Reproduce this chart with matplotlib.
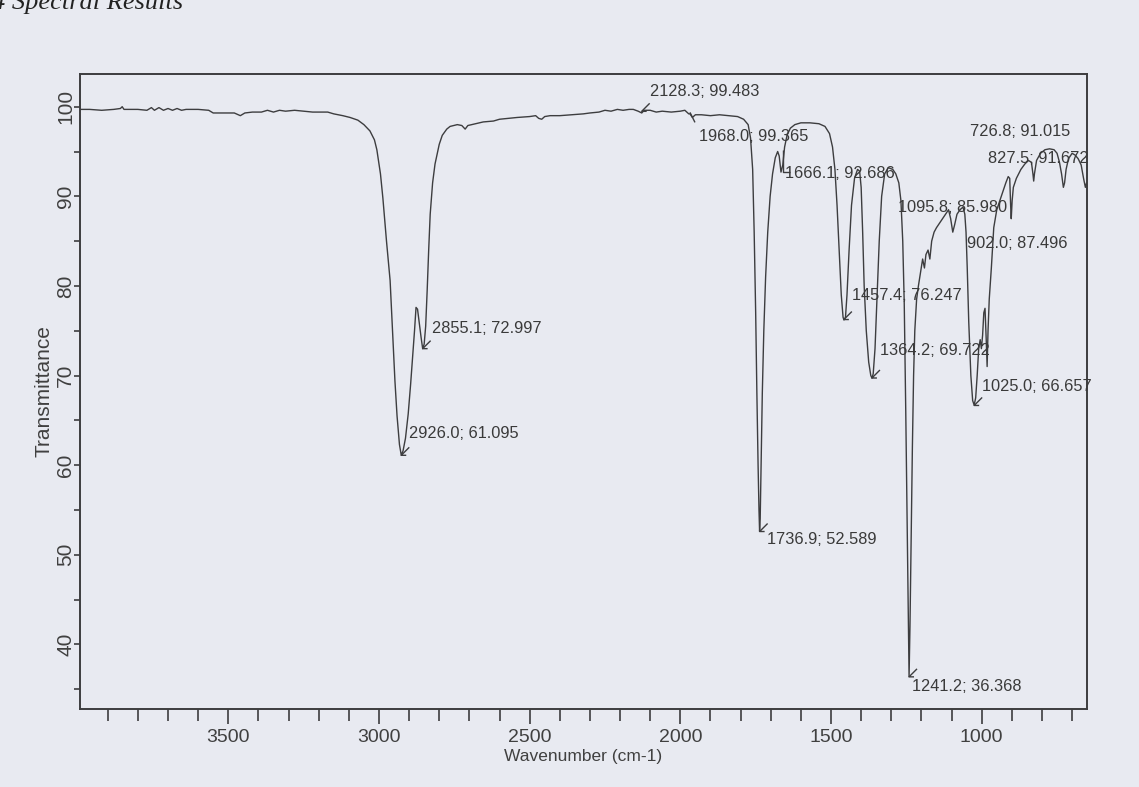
import matplotlib
matplotlib.use("Agg")
import matplotlib.pyplot as plt
from matplotlib.ticker import MultipleLocator, FixedLocator

# ---- spectrum ----
wavenumber = [
    3995, 3960, 3920, 3880, 3858, 3852, 3846, 3800, 3770, 3755, 3745, 3730, 3715,
    3700, 3685, 3670, 3655, 3640, 3600, 3565, 3550, 3520, 3480, 3460, 3445, 3420,
    3390, 3370, 3350, 3330, 3310, 3280, 3250, 3220, 3190, 3170, 3150, 3120, 3096,
    3070, 3050, 3030, 3015, 3007, 2995, 2987, 2975, 2963, 2955, 2947, 2940, 2932,
    2926, 2920, 2912, 2903, 2895, 2890, 2882, 2877, 2872, 2866, 2860, 2855, 2850,
    2845, 2840, 2835, 2830, 2822, 2814, 2800, 2790, 2775, 2764, 2740, 2725, 2714,
    2705, 2680, 2654, 2620, 2600, 2570, 2541, 2500, 2480, 2470, 2460, 2450, 2432,
    2400, 2360, 2322, 2300, 2270, 2250, 2230, 2209, 2190, 2170, 2156, 2140, 2128,
    2120, 2100, 2080, 2060, 2030, 2000, 1985, 1972, 1968, 1960, 1950, 1930, 1900,
    1870, 1840, 1810, 1790, 1775, 1767, 1760, 1755, 1750, 1746, 1742, 1739, 1737,
    1735, 1732, 1728, 1723, 1717, 1710, 1702, 1694, 1685, 1677, 1672, 1666, 1660,
    1654, 1646, 1635, 1620, 1600, 1570, 1540, 1520, 1505, 1495, 1487, 1480, 1473,
    1466, 1460, 1457, 1452, 1447, 1440, 1432, 1422, 1412, 1405, 1400, 1395, 1390,
    1383, 1375, 1368, 1364, 1360, 1354, 1347, 1340, 1332, 1322, 1310, 1295, 1285,
    1275, 1268, 1262, 1257, 1252, 1248, 1244, 1241, 1238, 1234, 1230, 1226, 1222,
    1216, 1210, 1203, 1196, 1190, 1185, 1178, 1172, 1166, 1158, 1150, 1140, 1130,
    1120, 1110, 1103, 1096, 1090, 1082, 1072, 1062, 1056, 1052, 1048, 1043, 1036,
    1030, 1025, 1020, 1015, 1010, 1005, 1001, 997, 993, 989, 985, 982, 979, 975,
    968, 960, 950, 940, 930, 920, 912, 907, 904, 902, 899, 895, 885, 870, 857, 845,
    835, 830, 827.5, 825, 818, 805, 790, 775, 760, 750, 742, 735, 729, 725, 720,
    712, 700, 690, 680, 670, 662, 656, 652,
]
transmittance = [
    99.7, 99.7, 99.6, 99.7, 99.8, 100.0, 99.7, 99.7, 99.6, 99.9, 99.6, 99.9, 99.6,
    99.8, 99.6, 99.8, 99.6, 99.7, 99.7, 99.6, 99.3, 99.3, 99.3, 99.0, 99.3, 99.4,
    99.4, 99.6, 99.4, 99.6, 99.5, 99.6, 99.5, 99.4, 99.4, 99.4, 99.2, 99.0, 98.8,
    98.5, 98.0, 97.3, 96.3, 95.2, 92.5, 89.8, 85.0, 80.6, 75.0, 69.4, 65.5, 62.3,
    61.1, 61.6, 63.0, 65.7, 69.0, 71.3, 75.0, 77.6, 77.4, 75.8, 74.2, 73.0, 73.5,
    75.5, 79.5, 84.0, 88.0, 91.5, 93.6, 95.8, 96.8, 97.5, 97.8, 98.0, 97.9, 97.5,
    97.9, 98.1, 98.3, 98.4, 98.6, 98.7, 98.8, 98.9, 99.0, 98.7, 98.6, 98.9, 99.0,
    99.0, 99.1, 99.2, 99.3, 99.4, 99.6, 99.5, 99.7, 99.6, 99.7, 99.7, 99.5, 99.3,
    99.6, 99.6, 99.4, 99.5, 99.4, 99.5, 99.6, 99.2, 99.2, 98.8, 99.1, 99.1, 99.0,
    99.1, 99.0, 98.9, 98.6, 98.0, 96.5, 93.0, 86.0, 77.0, 68.0, 60.0, 55.0, 52.6,
    54.0, 60.0, 68.0, 75.0, 81.0, 86.0, 90.0, 92.5, 94.3, 95.0, 94.5, 92.7, 93.5,
    95.5, 96.8, 97.6, 98.0, 98.2, 98.2, 98.1, 97.8, 97.0, 95.5, 93.0, 89.0, 84.0,
    79.0, 76.5, 76.2, 76.5, 79.0, 84.0, 89.0, 92.0, 93.0, 92.8, 91.0, 86.0, 80.0,
    75.0, 71.5, 70.0, 69.7, 70.2, 73.0, 79.0, 85.0, 90.0, 92.5, 93.2, 93.0, 92.5,
    91.5, 89.5, 85.0, 78.0, 66.0, 55.0, 43.0, 36.4, 42.0, 52.0, 62.0, 70.0, 75.0,
    78.5, 80.0, 81.5, 83.0, 82.0, 83.5, 84.0, 83.0, 85.0, 86.0, 86.5, 87.0, 87.5,
    88.0, 88.5, 87.5, 86.0, 86.8, 88.0, 88.5, 88.8, 88.0, 86.0, 82.0, 76.0, 70.0,
    67.2, 66.7, 67.5, 70.0, 73.0, 74.0, 73.0, 74.5, 77.0, 77.5, 74.0, 71.0, 75.0,
    78.5, 82.0, 86.5, 88.5, 89.5, 90.5, 91.5, 92.2, 92.0, 89.0, 87.5, 89.5, 91.0,
    92.0, 93.0, 93.6, 94.0, 93.8, 92.5, 91.7, 92.5, 94.0, 94.8, 95.2, 95.3, 95.2,
    94.8, 93.8, 92.5, 91.0, 91.5, 93.0, 94.2, 94.8, 94.6, 94.2, 93.5, 92.0, 91.0,
    91.5,
]

# ---- peak labels printed on the chart ----
peak_wn = [2926.0, 2855.1, 2128.3, 1968.0, 1736.9, 1666.1, 1457.4, 1364.2,
           1241.2, 1095.8, 1025.0, 902.0, 827.5, 726.8]
peak_t = [61.095, 72.997, 99.483, 99.365, 52.589, 92.686, 76.247, 69.722,
          36.368, 85.980, 66.657, 87.496, 91.672, 91.015]
label_wn = [2900, 2824, 2100.6, 1938, 1712, 1652.6, 1430, 1337.4,
            1231, 1277.6, 999, 1048.8, 979, 1039]
label_t = [63.5, 75.2, 101.7, 96.7, 51.75, 92.5, 78.9, 72.8,
           35.3, 88.7, 68.8, 84.75, 94.25, 97.25]
marker_kind = ["check", "check", "check", "slash", "check", "ell", "check", "check",
               "check", "none", "check", "none", "none", "none"]

sans = "Liberation Sans"
paper = "#e8eaf1"
ink = "#3d3d3f"

fig = plt.figure(figsize=(11.39, 7.87), dpi=100, facecolor=paper)
W, H = 1139, 787
ax = fig.add_axes([80 / W, 1 - 709 / H, (1087 - 80) / W, (709 - 74) / H])
ax.set_facecolor(paper)

ax.plot(wavenumber, transmittance, color=ink, lw=1.0)

ax.set_xlim(3992, 650.6)
ax.set_ylim(32.78, 103.65)

for s in ax.spines.values():
    s.set_color(ink)
    s.set_linewidth(1.4)

ax.xaxis.set_major_locator(FixedLocator([3500, 3000, 2500, 2000, 1500, 1000]))
ax.xaxis.set_minor_locator(MultipleLocator(100))
ax.yaxis.set_major_locator(MultipleLocator(10))
ax.yaxis.set_minor_locator(MultipleLocator(5))
ax.tick_params(axis="x", which="major", direction="out", length=11, width=1.2,
               color=ink, pad=3.5, labelsize=14, labelcolor="#404040")
ax.tick_params(axis="x", which="minor", direction="out", length=8.5, width=1.2, color=ink)
ax.tick_params(axis="y", which="both", direction="out", length=4, width=1.2,
               color=ink, pad=-0.5, labelsize=15, labelcolor="#404040")
for lab in ax.get_xticklabels():
    lab.set_fontfamily(sans)
for lab in ax.get_yticklabels():
    lab.set_fontfamily(sans)
    lab.set_rotation(90)
    lab.set_va("center")

ax.set_xlabel("Wavenumber (cm-1)", fontsize=12.5, family=sans, color="#404040", labelpad=2)
ax.set_ylabel("Transmittance", fontsize=15, family=sans, color="#404040")
ax.yaxis.set_label_coords(-0.0262, 0.5)

# pixel -> data scale of this axes, used for the little peak markers
px_wn = (3992 - 650.6) / (1087 - 80)
px_t = (103.65 - 32.78) / (709 - 74)


def seg(x0, y0, pts):
    # pts are screen-pixel offsets: dx to the right, dy downwards
    xs = [x0 - dx * px_wn for dx, dy in pts]
    ys = [y0 - dy * px_t for dx, dy in pts]
    ax.plot(xs, ys, color=ink, lw=1.0, solid_capstyle="butt")


for pw, pt, lw_, lt, kind in zip(peak_wn, peak_t, label_wn, label_t, marker_kind):
    ax.text(lw_, lt, f"{pw:.1f}; {pt:.3f}", fontsize=11.8, family=sans,
            color="#3a3a3a", ha="left", va="center")
    if kind == "check":
        seg(pw, pt, [(8, -8), (0, 0), (5, 0)])
    elif kind == "slash":
        seg(pw, pt, [(0, 0), (5, 10)])
    elif kind == "ell":
        seg(pw, pt, [(2, -22), (2, 0), (9, 0)])

fig.text(-8 / W, 1 - 8.5 / H, "4 Spectral Results", fontsize=19, family="Liberation Serif",
         style="italic", color="#222222", ha="left", va="baseline")

fig.savefig("out.png", dpi=100, facecolor=paper)
